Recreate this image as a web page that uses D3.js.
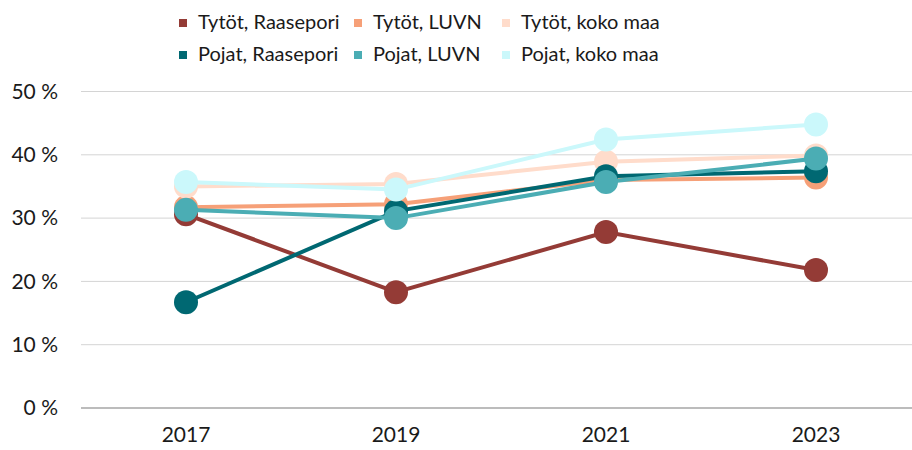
<!DOCTYPE html>
<meta charset="utf-8">
<style>
body { margin: 0; background: #fff; }
text { font-family: Lato, "Open Sans", sans-serif; fill: #1a1a1a; }
</style>
<body>
<svg class="chart"></svg>
<script src="https://d3js.org/d3.v7.min.js"></script>
<script>
"use strict";

var years = ["2017", "2019", "2021", "2023"];
var yTicks = [0, 10, 20, 30, 40, 50];

var tytotRaasepori = [30.6, 18.3, 27.8, 21.8];
var tytotLuvn = [31.7, 32.2, 36.0, 36.4];
var tytotKokoMaa = [35.0, 35.4, 38.9, 39.9];
var pojatRaasepori = [16.7, 31.1, 36.6, 37.4];
var pojatLuvn = [31.3, 30.0, 35.7, 39.4];
var pojatKokoMaa = [35.7, 34.5, 42.4, 44.8];

var series = [
  { name: "Tytöt, Raasepori", color: "#943b36", values: tytotRaasepori },
  { name: "Tytöt, LUVN", color: "#f6a078", values: tytotLuvn },
  { name: "Tytöt, koko maa", color: "#ffdccb", values: tytotKokoMaa },
  { name: "Pojat, Raasepori", color: "#006872", values: pojatRaasepori },
  { name: "Pojat, LUVN", color: "#4badb4", values: pojatLuvn },
  { name: "Pojat, koko maa", color: "#cbf8fb", values: pojatKokoMaa }
];

var width = 912, height = 450;
var svg = d3.select(".chart").attr("width", width).attr("height", height);

var x = d3.scalePoint().domain(years).range([186, 816]);
var y = d3.scaleLinear().domain([0, 50]).range([408, 91.5]);

// grid
svg.append("g").selectAll("line")
  .data(yTicks)
  .join("line")
    .attr("x1", 81).attr("x2", width)
    .attr("y1", function (d) { return y(d); })
    .attr("y2", function (d) { return y(d); })
    .style("stroke", function (d) { return d === 0 ? "#a6a6a6" : "#d4d4d4"; })
    .style("stroke-width", function (d) { return d === 0 ? 1.5 : 1; });

svg.append("g").selectAll("text")
  .data(yTicks)
  .join("text")
    .attr("x", 58)
    .attr("y", function (d) { return y(d); })
    .attr("dy", "0.35em")
    .attr("text-anchor", "end")
    .style("font-size", "21px")
    .text(function (d) { return d + " %"; });

svg.append("g").selectAll("text")
  .data(years)
  .join("text")
    .attr("x", function (d) { return x(d); })
    .attr("y", 442)
    .attr("text-anchor", "middle")
    .style("font-size", "21px")
    .text(function (d) { return d; });

var line = d3.line()
  .x(function (d, i) { return x(years[i]); })
  .y(function (d) { return y(d); });

var g = svg.append("g").selectAll("g")
  .data(series)
  .join("g");

g.append("path")
  .attr("d", function (d) { return line(d.values); })
  .style("fill", "none")
  .style("stroke", function (d) { return d.color; })
  .style("stroke-width", 4);

g.selectAll("circle")
  .data(function (d) { return d.values.map(function (v, i) { return { v: v, i: i, color: d.color }; }); })
  .join("circle")
    .attr("cx", function (d) { return x(years[d.i]); })
    .attr("cy", function (d) { return y(d.v); })
    .attr("r", 12)
    .style("fill", function (d) { return d.color; });

// legend, two rows
var legendX = [179, 354, 502];
var legendY = [22, 54];
var legend = svg.append("g").selectAll("g")
  .data(series)
  .join("g")
    .attr("transform", function (d, i) {
      return "translate(" + legendX[i % 3] + "," + legendY[Math.floor(i / 3)] + ")";
    });

legend.append("rect")
  .attr("x", 0).attr("y", -3)
  .attr("width", 8).attr("height", 8)
  .style("fill", function (d) { return d.color; });

legend.append("text")
  .attr("x", 19)
  .attr("dy", "0.35em")
  .style("font-size", "20px")
  .text(function (d) { return d.name; });
</script>
</body>
